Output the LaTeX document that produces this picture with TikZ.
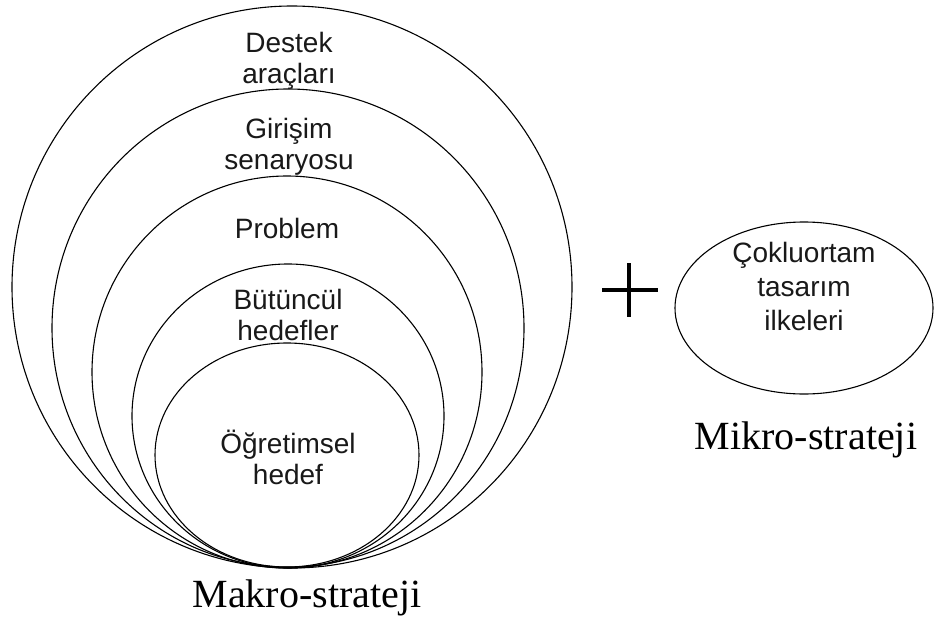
\documentclass[tikz,border=0pt]{standalone}
\usepackage{fontspec}
\setmainfont{Liberation Serif}
\newfontfamily\arialfont{Liberation Sans}
\usetikzlibrary{shapes.geometric}
\tikzset{
  ring/.style={draw=black, line width=1.1pt, ellipse, inner sep=0pt},
  lbl/.style={font=\arialfont\fontsize{28}{31}\selectfont, align=center, inner sep=0pt, text=black!90},
  title/.style={font=\fontsize{40}{46}\selectfont, inner sep=0pt}
}
\begin{document}
\begin{tikzpicture}[x=1pt,y=-1pt]
\useasboundingbox (0,0) rectangle (934,623);
\fill[white] (0,0) rectangle (934,623);
% nested rings
\node[ring, minimum width=560pt, minimum height=562pt] (c1) at (292,287) {};
\node[ring, minimum width=472pt, minimum height=478pt] (c2) at (288,328) {};
\node[ring, minimum width=390pt, minimum height=392pt] (c3) at (287,372) {};
\node[ring, minimum width=312pt, minimum height=304pt] (c4) at (288,416) {};
\node[ring, minimum width=264pt, minimum height=224pt] (c5) at (287,455) {};
% labels
\node[lbl] (t1) at (289,61) {Destek\\araçları};
\node[lbl] (t2) at (289,147) {Girişim\\senaryosu};
\node[lbl] (t3) at (287,228) {Problem};
\node[lbl] (t4) at (288,315) {Bütüncül\\hedefler};
\node[lbl] (t5) at (288,457) {Öğretimsel\\hedef};
\node[title] (makro) at (307,598) {Makro-strateji};
% plus
\coordinate (pl) at (602,290);
\coordinate (pr) at (658,290);
\coordinate (pt) at (629,263);
\coordinate (pb) at (629,317);
\draw[line width=3.5pt] (pl) -- (pr);
\draw[line width=3.5pt] (pt) -- (pb);
% micro
\node[ring, minimum width=258pt, minimum height=172pt] (m) at (804,308) {};
\node[lbl, font=\arialfont\fontsize{28}{34}\selectfont] (tm) at (804,286) {Çokluortam\\tasarım\\ilkeleri};
\node[title] (mikro) at (806,440) {Mikro-strateji};
\end{tikzpicture}
\end{document}
